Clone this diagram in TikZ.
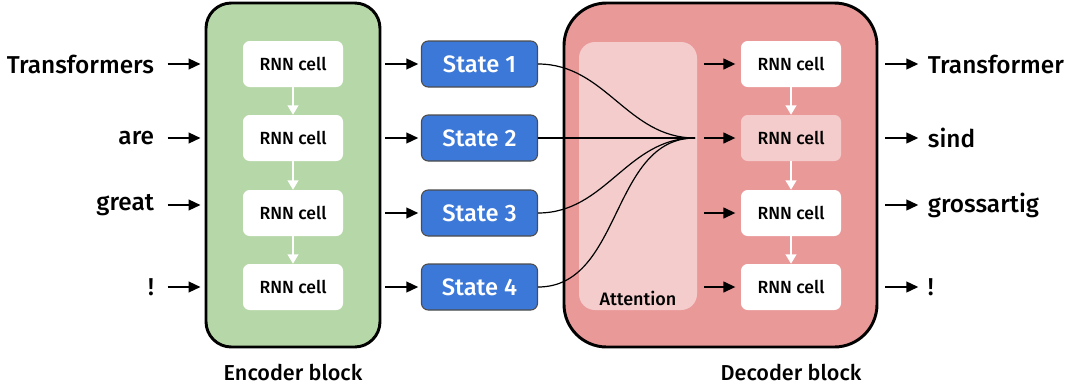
\documentclass[tikz,border=0pt]{standalone}
\usepackage{fontspec}
\setmainfont{Fira Sans}
\newfontfamily\medfont{Fira Sans Medium}
\usetikzlibrary{positioning,arrows.meta}

\definecolor{encgreen}{HTML}{B6D7A8}
\definecolor{decred}{HTML}{EA9999}
\definecolor{attpink}{HTML}{F4CCCC}
\definecolor{stateblue}{HTML}{3C78D8}

\begin{document}
\begin{tikzpicture}[x=0.75pt,y=-0.75pt,
            block/.style={draw=black, line width=2.2pt},
            cell/.style={fill=white, rounded corners=5pt, minimum width=75pt, minimum height=34.5pt,
              font=\medfont\fontsize{13.2}{15}\selectfont},
            state/.style={draw=black!70, fill=stateblue, text=white, rounded corners=5pt, line width=0.8pt,
              minimum width=87pt, minimum height=34.5pt, font=\medfont\fontsize{17.8}{20}\selectfont},
            word/.style={font=\medfont\fontsize{18.3}{21}\selectfont, inner sep=2pt},
            label/.style={font=\medfont\fontsize{13.5}{16}\selectfont},
            arr/.style={-{Triangle[length=9pt,width=8pt]}, line width=1.6pt},
            warr/.style={-{Triangle[length=7pt,width=8pt]}, line width=1.3pt, white}
            ]
            \useasboundingbox (0,0) rectangle (1070,386);
            % Blocks
            \node[block, fill=encgreen, rounded corners=19pt, minimum width=130.5pt, minimum height=258pt] (enc) at (293,175) {};
            \node[block, fill=decred, rounded corners=32pt, minimum width=234.75pt, minimum height=258pt] (dec) at (720.5,175) {};
            \node[fill=attpink, rounded corners=12pt, minimum width=88.5pt, minimum height=201pt] (attn) at (638,176) {};
            \node[label] (attlabel) at (638,298) {Attention};
            \node[label, font=\medfont\fontsize{16.2}{19}\selectfont] (enclabel) at (293,372) {Encoder block};
            \node[label, font=\medfont\fontsize{16.2}{19}\selectfont] (declabel) at (791,372) {Decoder block};

            % Encoder
            \node[cell] (e1) at (293,64) {RNN cell};
            \node[cell] (e2) at (293,138) {RNN cell};
            \node[cell] (e3) at (293,213) {RNN cell};
            \node[cell] (e4) at (293,287) {RNN cell};
            \foreach \a/\b in {e1/e2, e2/e3, e3/e4}
              \draw[warr] (\a) -- (\b);

            % Inputs
            \node[word, anchor=east] (w1) at (157,64) {Transformers};
            \node[word, anchor=east] (w2) at (157,138) {are};
            \node[word, anchor=east] (w3) at (157,205) {great};
            \node[word, anchor=east] (w4) at (157,287) {!};

            % States
            \node[state] (s1) at (479.5,64) {State 1};
            \node[state] (s2) at (479.5,138) {State 2};
            \node[state] (s3) at (479.5,213) {State 3};
            \node[state] (s4) at (479.5,287) {State 4};

            % Decoder
            \node[cell] (d1) at (791,64) {RNN cell};
            \node[cell, fill=attpink] (d2) at (791,138) {RNN cell};
            \node[cell] (d3) at (791,213) {RNN cell};
            \node[cell] (d4) at (791,287) {RNN cell};
            \foreach \a/\b in {d1/d2, d2/d3, d3/d4}
              \draw[warr] (\a) -- (\b);

            % Outputs
            \node[word, anchor=west] (o1) at (925,64) {Transformer};
            \node[word, anchor=west] (o2) at (925,138) {sind};
            \node[word, anchor=west] (o3) at (925,205) {grossartig};
            \node[word, anchor=west] (o4) at (925,287) {!};

            \coordinate (hub) at (695,138);

            \foreach \i in {1,...,4} {
              \draw[arr, shorten <=8pt, shorten >=3pt] (w\i.east) -- (w\i -| enc.west);
              \draw[arr, shorten <=3pt, shorten >=2pt] (e\i -| enc.east) -- (s\i.west);
              \draw[arr, shorten <=5pt, shorten >=4pt] (d\i -| attn.east) -- (d\i.west);
              \draw[arr, shorten <=5pt, shorten >=5pt] (o\i -| dec.east) -- (o\i.west);
            }
            % Attention links
            \draw[line width=0.9pt] (s1.east) to[out=0, in=180] (hub);
            \draw[line width=0.9pt] (s2.east) -- (hub);
            \draw[line width=0.9pt] (s3.east) to[out=0, in=180] (hub);
            \draw[line width=0.9pt] (s4.east) to[out=0, in=180] (hub);
\end{tikzpicture}
\end{document}
